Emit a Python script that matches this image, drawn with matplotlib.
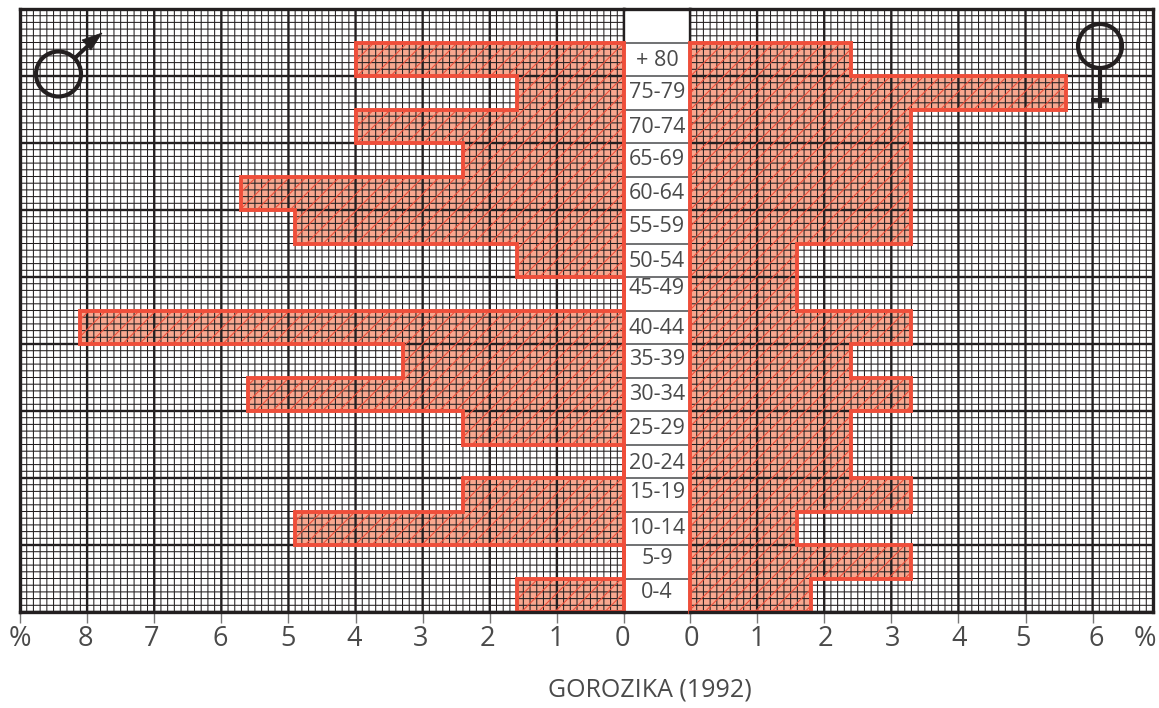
import matplotlib
matplotlib.use("Agg")
import matplotlib.pyplot as plt
import matplotlib.transforms as mtrans
import numpy as np
from matplotlib.patches import Circle, Polygon

plt.rcParams['font.family'] = ['Open Sans', 'DejaVu Sans']
plt.rcParams['hatch.linewidth'] = 0.75

age_groups = ['0-4', '5-9', '10-14', '15-19', '20-24', '25-29', '30-34', '35-39', '40-44',
              '45-49', '50-54', '55-59', '60-64', '65-69', '70-74', '75-79', '+ 80']
male = [1.6, 0, 4.9, 2.4, 0, 2.4, 5.6, 3.3, 8.1, 0, 1.6, 4.9, 5.7, 2.4, 4.0, 1.6, 4.0]
female = [1.8, 3.3, 1.6, 3.3, 2.4, 2.4, 3.3, 2.4, 3.3, 1.6, 1.6, 3.3, 3.3, 3.3, 3.3, 5.6, 2.4]
male_ticks = [0, 1, 2, 3, 4, 5, 6, 7, 8]
female_ticks = [0, 1, 2, 3, 4, 5, 6]
title = 'GOROZIKA (1992)'

W, H = 1159, 708
X_L0, X_L1, X_R0, X_R1 = 20, 624, 690, 1153
Y_T, Y_B = 9, 612
LIM_L, LIM_R = 9.0, 6.9
RED = '#ef4e3a'
SALMON = '#f8a78f'
INK = '#231f20'
GREY = '#4a4a4a'
# small hand-placement nudges in pixels, as in the printed original
row_label_shift = [3, 3, 0, 2, -2, -1, 0, 1, -1, 5, -1, 0, 0, 0, -1, 0, -1]
male_label_shift = [-2, -1, -2, -2, -1, 0, -1, -3, -2]
female_label_shift = [1, 0, 1, 1, 1, -2, 4]

fig = plt.figure(figsize=(W / 100, H / 100), dpi=100, facecolor='white')


def make_axes(x0, x1):
    return fig.add_axes([x0 / W, 1 - Y_B / H, (x1 - x0) / W, (Y_B - Y_T) / H])


axC = make_axes(X_L1, X_R0)
axL = make_axes(X_L0, X_L1)
axR = make_axes(X_R0, X_R1)
axC.set_zorder(0)
axL.set_zorder(1)
axR.set_zorder(1)
axL.set_xlim(LIM_L, 0)
axR.set_xlim(0, LIM_R)
axC.set_xlim(0, 1)
n_rows = 18

for ax, xmax in ((axL, LIM_L), (axR, LIM_R)):
    ax.set_ylim(0, n_rows)
    ax.set_facecolor('white')
    for v in np.arange(0, xmax + 0.001, 0.1):
        major = abs(v - round(v)) < 1e-6
        ax.axvline(v, color=INK, lw=1.7 if major else 0.75, zorder=2, snap=False)
    for v in np.arange(0, n_rows + 0.001, 0.2):
        major = abs(v / 2 - round(v / 2)) < 1e-6
        ax.axhline(v, color=INK, lw=1.7 if major else 0.75, zorder=2, snap=False)
    for s in ax.spines.values():
        s.set_color(INK)
        s.set_linewidth(2.4)
    ax.spines['bottom'].set_zorder(6)
    ax.spines['top'].set_zorder(6)
    ax.tick_params(axis='y', left=False, labelleft=False)
    ax.tick_params(axis='x', length=8, width=1.0, color='#777777', labelsize=19.5,
                   labelcolor=GREY, pad=1)
axL.spines['right'].set_linewidth(1.7)
axR.spines['left'].set_linewidth(1.7)

edges = np.arange(len(age_groups) + 1)
for ax, vals in ((axL, male), (axR, female)):
    stepped = list(vals) + [vals[-1]]
    ax.fill_betweenx(edges, 0, stepped, step='post', facecolor=SALMON, lw=0, zorder=1)
    ax.fill_betweenx(edges, 0, stepped, step='post', facecolor='none', edgecolor=RED,
                     hatch='//', lw=0, zorder=3)
    ax.fill_betweenx(edges, 0, stepped, step='post', facecolor='none', edgecolor=RED,
                     lw=2.8, zorder=5, clip_on=False, joinstyle='miter')

axL.set_xticks(male_ticks + [LIM_L])
axL.set_xticklabels([str(t) for t in male_ticks] + ['%'])
axR.set_xticks(female_ticks)
axR.set_xticklabels([str(t) for t in female_ticks])
for ax, shifts in ((axL, male_label_shift), (axR, female_label_shift)):
    for lab, dx in zip(ax.get_xticklabels(), shifts):
        lab.set_transform(lab.get_transform() + mtrans.Affine2D().translate(dx, 0))

axC.set_ylim(0, n_rows)
axC.set_xticks([])
axC.set_yticks([])
for side in ('left', 'right'):
    axC.spines[side].set_visible(False)
for side in ('bottom', 'top'):
    axC.spines[side].set_color(INK)
    axC.spines[side].set_linewidth(2.4)
for y in range(1, len(age_groups) + 1):
    axC.axhline(y, color='#58595b', lw=1.2)
for y, label, dy in zip(edges[:-1] + 0.5, age_groups, row_label_shift):
    axC.annotate(label, (0.5, y), xytext=(0, dy * 0.72), textcoords='offset points',
                 ha='center', va='center', fontsize=15.5, color=GREY)

# Overlay in pixel coordinates for the free-standing texts and the two gender symbols
ov = fig.add_axes([0, 0, 1, 1], zorder=10)
ov.set_xlim(0, W)
ov.set_ylim(H, 0)
ov.axis('off')
ov.text(650, 690, title, ha='center', va='center', fontsize=18, color=GREY)
ov.text(1145, 639, '%', ha='center', va='center', fontsize=19.5, color=GREY)

ov.add_patch(Circle((58.5, 74), 22.5, fill=False, ec=INK, lw=3.0))
ov.plot([75, 93], [58, 41], color=INK, lw=2.8, solid_capstyle='butt')
ov.add_patch(Polygon([[102, 33], [82, 40], [91, 50]], closed=True, fc=INK, ec=INK, lw=0.5))

ov.add_patch(Circle((1100, 46), 22, fill=False, ec=INK, lw=3.0))
ov.plot([1100, 1100], [68, 108], color=INK, lw=3.0, solid_capstyle='butt')
ov.plot([1091, 1109], [100, 100], color=INK, lw=3.0, solid_capstyle='butt')

fig.savefig('out.png', dpi=100, facecolor='white')
